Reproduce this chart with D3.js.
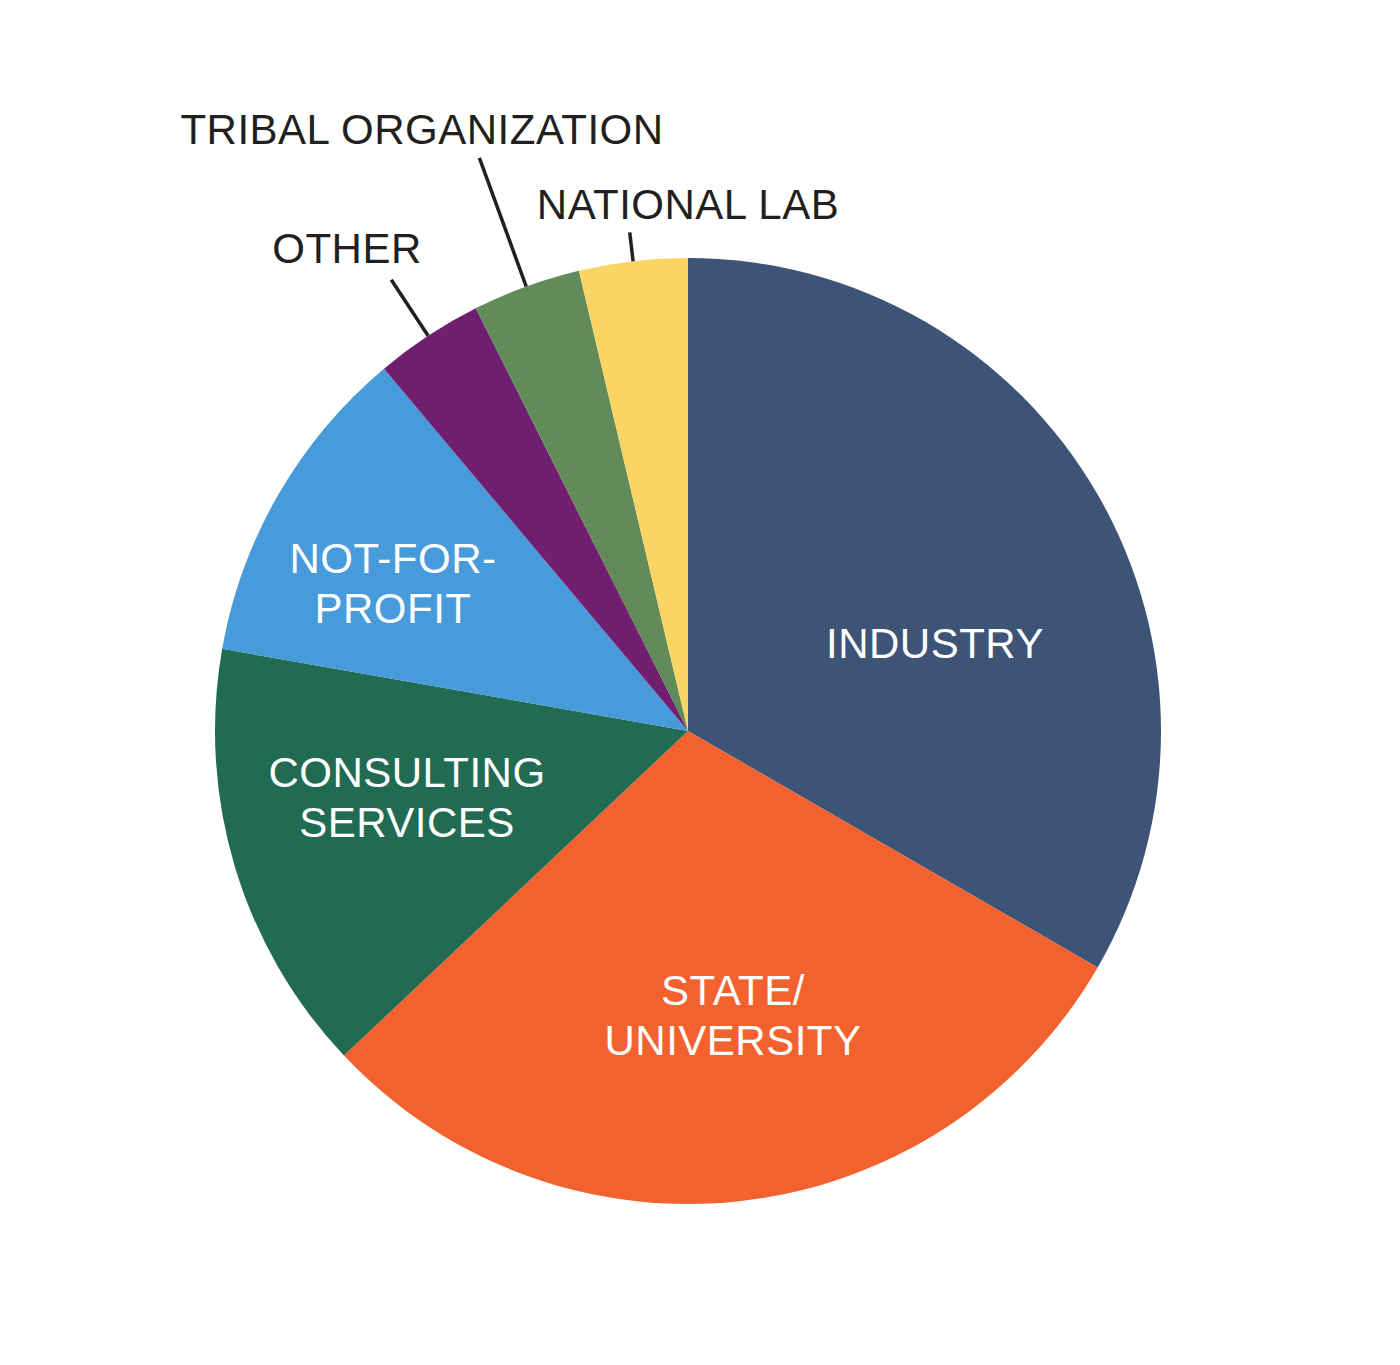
<!DOCTYPE html>
<html>
<head>
<meta charset="utf-8">
<script src="https://cdn.jsdelivr.net/npm/d3@7"></script>
<style>
  html, body { margin: 0; padding: 0; background: #ffffff; }
  svg { display: block; }
  text { font-family: "Liberation Sans", Arial, Helvetica, sans-serif; letter-spacing: 0.5px; }
</style>
</head>
<body>
<svg id="chart" width="1400" height="1365"></svg>
<script>
// ---- data ----
const categories = ["INDUSTRY", "STATE/\nUNIVERSITY", "CONSULTING\nSERVICES", "NOT-FOR-\nPROFIT", "OTHER", "TRIBAL ORGANIZATION", "NATIONAL LAB"];
const values = [9, 8, 4, 3, 1, 1, 1];
const colors = ["#3e5476", "#f3622e", "#226b53", "#479bdb", "#701e6f", "#618b58", "#fbd563"];
const outside = [false, false, false, false, true, true, true];

// ---- layout ----
const W = 1400, H = 1365;
const cx = 688, cy = 731, R = 473;
const fontSize = 42, lineH = 50;
// label block centres relative to pie centre (inside) / baseline (outside)
const insideOffset = {
  0: [247, -88],
  1: [45, 284],
  2: [-281, 66],
  3: [-295, -148]
};
const leaderOuter = { 4: 540, 5: 610, 6: 502 };
const outsideText = { 4: [-341, -468], 5: [-266, -587], 6: [0, -512] };

const svg = d3.select("#chart");
const g = svg.append("g").attr("transform", `translate(${cx},${cy})`);

const pie = d3.pie().sort(null).value(d => d.v).startAngle(0).endAngle(2 * Math.PI);
const data = categories.map((c, i) => ({ name: c, v: values[i], color: colors[i], out: outside[i], i }));
const arcs = pie(data);
const arc = d3.arc().innerRadius(0).outerRadius(R);

g.selectAll("path.slice")
  .data(arcs)
  .join("path")
  .attr("class", "slice")
  .attr("d", arc)
  .attr("fill", d => d.data.color);

// inside labels
arcs.filter(d => !d.data.out).forEach(d => {
  const lines = d.data.name.split("\n");
  const [ox, oy] = insideOffset[d.data.i];
  const capH = fontSize * 0.716;
  const blockH = (lines.length - 1) * lineH + capH;
  const firstBaseline = oy - blockH / 2 + capH;
  const t = g.append("text")
    .attr("text-anchor", "middle")
    .attr("fill", "#ffffff")
    .attr("font-size", fontSize);
  lines.forEach((ln, k) => {
    t.append("tspan").attr("x", ox).attr("y", firstBaseline + k * lineH).text(ln);
  });
});

// outside labels with leader lines
arcs.filter(d => d.data.out).forEach(d => {
  const a = (d.startAngle + d.endAngle) / 2;
  const r2 = leaderOuter[d.data.i];
  g.append("line")
    .attr("x1", Math.sin(a) * R).attr("y1", -Math.cos(a) * R)
    .attr("x2", Math.sin(a) * r2).attr("y2", -Math.cos(a) * r2)
    .attr("stroke", "#231f20")
    .attr("stroke-width", 3.5);
  const [tx, ty] = outsideText[d.data.i];
  g.append("text")
    .attr("x", tx).attr("y", ty)
    .attr("text-anchor", "middle")
    .attr("fill", "#231f20")
    .attr("font-size", fontSize)
    .text(d.data.name);
});
</script>
</body>
</html>
